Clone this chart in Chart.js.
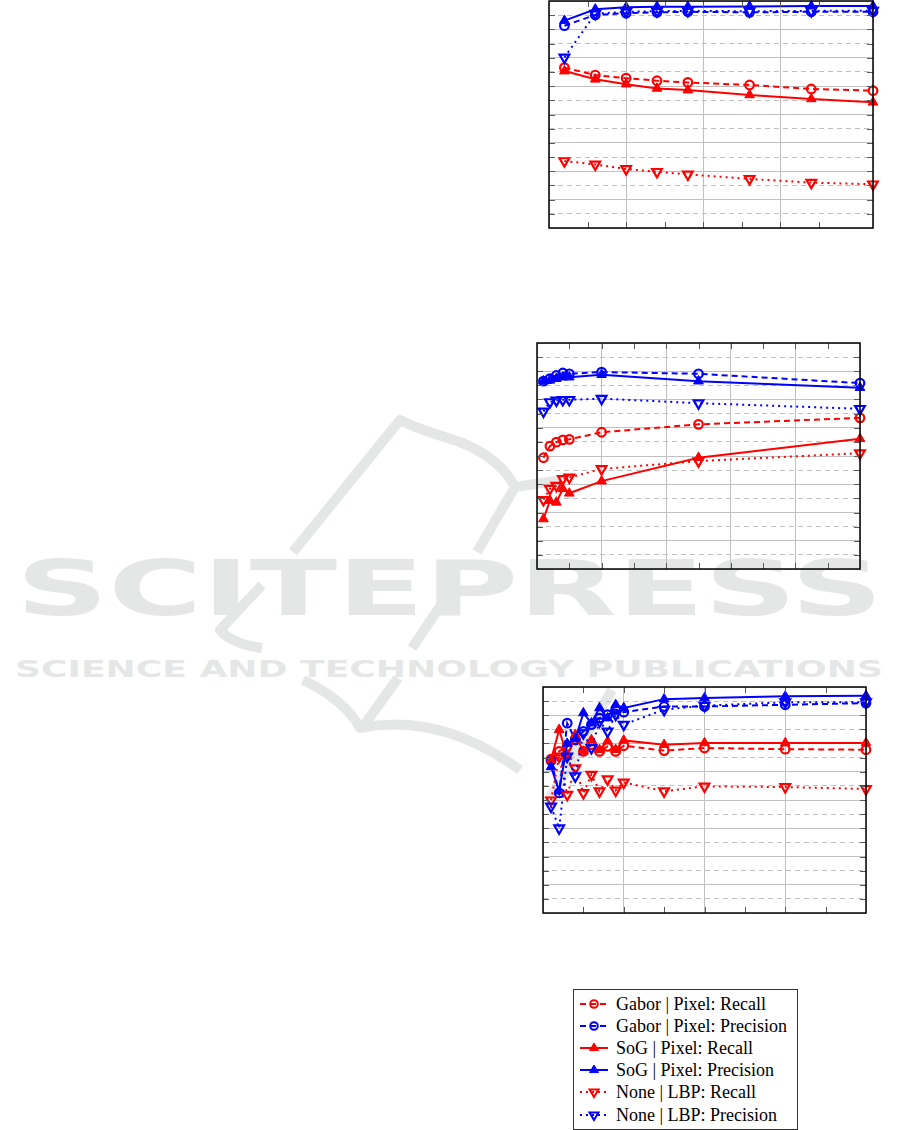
<!DOCTYPE html>
<html>
<head>
<meta charset="utf-8">
<script src="https://cdn.jsdelivr.net/npm/chart.js@4.4.0/dist/chart.umd.min.js"></script>
<style>
  html, body { margin: 0; padding: 0; background: #fff; }
  body { width: 901px; height: 1130px; position: relative; overflow: hidden; }
  #mark { position: absolute; left: 0; top: 0; z-index: 0; }
  canvas { position: absolute; z-index: 1; }
  #legend {
    position: absolute; left: 573px; top: 989px; width: 223px; height: 139px;
    border: 1px solid #333; background: #fff; z-index: 2;
    font-family: "Liberation Serif", "Times New Roman", serif; font-size: 18px; color: #000;
  }
  .row { position: absolute; left: 0; height: 20px; line-height: 20px; white-space: nowrap; }
  .row svg { position: absolute; left: 6px; top: 0; }
  .row span { position: absolute; left: 42px; top: 0; }
</style>
</head>
<body>

<!-- publisher watermark, sits behind the plots -->
<svg id="mark" width="901" height="1130">
  <g fill="none" stroke="#e5e7e7" stroke-width="10" stroke-linecap="butt" stroke-linejoin="round">
    <path d="M293,552 L400,420 Q415,428 460,442 Q500,458 515,487 L562,480"/>
    <path d="M515,487 L477,552"/>
    <path d="M262,585 L220,630 Q232,644 262,648"/>
    <path d="M443,602 L412,648"/>
    <path d="M303,680 Q345,700 360,728 Q440,712 520,770"/>
    <path d="M362,728 L398,678"/>
    <path d="M612,690 L548,802"/>
  </g>
  <text x="16" y="615" textLength="867" lengthAdjust="spacingAndGlyphs"
        font-family="DejaVu Sans" font-weight="bold" font-size="76" fill="#e5e7e7">SCITEPRESS</text>
  <text x="15" y="677" textLength="868" lengthAdjust="spacingAndGlyphs"
        font-family="DejaVu Sans" font-weight="bold" font-size="23.5" fill="#e5e7e7">SCIENCE AND TECHNOLOGY PUBLICATIONS</text>
</svg>

<canvas id="chartTop"></canvas>
<canvas id="chartMid"></canvas>
<canvas id="chartBot"></canvas>
<div id="legend"></div>

<script>
// series names, same order as the legend
const seriesLabels = [
  "Gabor | Pixel: Recall",
  "Gabor | Pixel: Precision",
  "SoG | Pixel: Recall",
  "SoG | Pixel: Precision",
  "None | LBP: Recall",
  "None | LBP: Precision"
];

// y axis (all three plots)
const yMin = 0.2;
const yMax = 1.0;
const yStep = 0.05;

// top plot
const xTop = [2, 6, 10, 14, 18, 26, 34, 42];
const xTopMax = 42, xTopStep = 5;
const gaborRecallTop = [0.765, 0.739, 0.728, 0.719, 0.713, 0.704, 0.690, 0.684];
const gaborPrecTop = [0.913, 0.951, 0.957, 0.960, 0.962, 0.960, 0.962, 0.962];
const sogRecallTop = [0.753, 0.724, 0.707, 0.692, 0.686, 0.669, 0.655, 0.643];
const sogPrecTop = [0.931, 0.971, 0.978, 0.980, 0.980, 0.981, 0.982, 0.982];
const noneRecallTop = [0.436, 0.424, 0.408, 0.398, 0.389, 0.373, 0.360, 0.354];
const nonePrecTop = [0.801, 0.955, 0.962, 0.964, 0.965, 0.964, 0.965, 0.966];

// middle plot
const xMid = [2, 4, 6, 8, 10, 20, 50, 100];
const xMidMax = 100, xMidStep = 10;
const gaborRecallMid = [0.594, 0.635, 0.649, 0.657, 0.659, 0.684, 0.712, 0.735];
const gaborPrecMid = [0.865, 0.874, 0.885, 0.894, 0.891, 0.897, 0.891, 0.858];
const sogRecallMid = [0.377, 0.442, 0.436, 0.484, 0.468, 0.511, 0.594, 0.661];
const sogPrecMid = [0.865, 0.868, 0.874, 0.879, 0.879, 0.888, 0.865, 0.842];
const noneRecallMid = [0.445, 0.484, 0.495, 0.519, 0.524, 0.554, 0.582, 0.610];
const nonePrecMid = [0.758, 0.791, 0.797, 0.799, 0.799, 0.803, 0.787, 0.767];

// bottom plot
const xBot = [1, 2, 3, 4, 5, 6, 7, 8, 9, 10, 15, 20, 30, 40];
const xBotMax = 40, xBotStep = 5;
const gaborRecallBot = [0.745, 0.772, 0.790, 0.813, 0.772, 0.796, 0.772, 0.790, 0.772, 0.792, 0.775, 0.784, 0.780, 0.778];
const gaborPrecBot = [0.739, 0.625, 0.872, 0.813, 0.843, 0.867, 0.890, 0.902, 0.920, 0.911, 0.931, 0.931, 0.937, 0.943];
const sogRecallBot = [0.743, 0.849, 0.754, 0.831, 0.772, 0.813, 0.778, 0.808, 0.778, 0.811, 0.796, 0.802, 0.802, 0.802];
const sogPrecBot = [0.717, 0.631, 0.800, 0.816, 0.908, 0.872, 0.926, 0.890, 0.937, 0.926, 0.957, 0.961, 0.967, 0.969];
const noneRecallBot = [0.599, 0.754, 0.619, 0.713, 0.625, 0.690, 0.631, 0.674, 0.634, 0.662, 0.631, 0.648, 0.646, 0.639];
const nonePrecBot = [0.577, 0.500, 0.754, 0.684, 0.837, 0.784, 0.878, 0.843, 0.902, 0.867, 0.920, 0.934, 0.946, 0.946];

// look of each series (line + marker)
const RED = "#ff0000", BLUE = "#0000ff";
const looks = [
  { color: RED,  dash: [6, 4], mark: "circle" },
  { color: BLUE, dash: [6, 4], mark: "circle" },
  { color: RED,  dash: [],     mark: "up" },
  { color: BLUE, dash: [],     mark: "up" },
  { color: RED,  dash: [2, 4], mark: "down" },
  { color: BLUE, dash: [2, 4], mark: "down" }
];

const PAD = 10;       // room round the plot box for markers on the frame
const TICK = 6;       // inward tick length
const GRID = "#c0c0c0";

// ticks on all four sides + black frame, like pgfplots
const framePlugin = {
  id: "frame",
  afterDraw(chart) {
    const { ctx, chartArea: a, scales } = chart;
    ctx.save();
    ctx.strokeStyle = "#5a5a5a";
    ctx.lineWidth = 1;
    ctx.beginPath();
    scales.x.ticks.forEach(t => {
      const px = Math.round(scales.x.getPixelForValue(t.value)) + 0.5;
      if (px <= a.left + 2 || px >= a.right - 2) return;
      ctx.moveTo(px, a.bottom); ctx.lineTo(px, a.bottom - TICK);
      ctx.moveTo(px, a.top); ctx.lineTo(px, a.top + TICK);
    });
    scales.y.ticks.forEach(t => {
      const py = Math.round(scales.y.getPixelForValue(t.value)) + 0.5;
      if (py <= a.top + 2 || py >= a.bottom - 2) return;
      ctx.moveTo(a.left, py); ctx.lineTo(a.left + TICK, py);
      ctx.moveTo(a.right, py); ctx.lineTo(a.right - TICK, py);
    });
    ctx.stroke();
    ctx.strokeStyle = "#000";
    ctx.lineWidth = 1.5;
    ctx.strokeRect(a.left, a.top, a.right - a.left, a.bottom - a.top);
    ctx.restore();
  }
};

function drawChart(id, box, xs, ys, xMax, xStep) {
  const cv = document.getElementById(id);
  cv.width = box.w + 2 * PAD;
  cv.height = box.h + 2 * PAD;
  cv.style.left = (box.x - PAD) + "px";
  cv.style.top = (box.y - PAD) + "px";

  const datasets = ys.map((vals, i) => {
    const lk = looks[i];
    return {
      label: seriesLabels[i],
      data: xs.map((x, k) => ({ x: x, y: vals[k] })),
      borderColor: lk.color,
      backgroundColor: lk.color,
      borderWidth: 2,
      borderDash: lk.dash,
      tension: 0,
      pointStyle: lk.mark === "circle" ? "circle" : "triangle",
      pointRotation: lk.mark === "down" ? 180 : 0,
      pointRadius: lk.mark === "circle" ? 4.3 : 5.6,
      pointBorderWidth: lk.mark === "up" ? 1 : 2.2,
      pointBorderColor: lk.color,
      pointBackgroundColor: lk.mark === "up" ? lk.color : "rgba(255,255,255,0)",
      order: 6 - i,
      clip: false
    };
  });

  new Chart(cv, {
    type: "line",
    data: { datasets: datasets },
    options: {
      responsive: false,
      animation: false,
      events: [],
      layout: { padding: PAD },
      plugins: { legend: { display: false }, tooltip: { enabled: false } },
      scales: {
        x: {
          type: "linear", min: 0, max: xMax,
          afterFit: s => { s.height = 0; },
          ticks: { display: false, stepSize: xStep },
          grid: {
            drawTicks: false, lineWidth: 1,
            color: c => (c.index % 2 === 0 ? GRID : "rgba(0,0,0,0)")
          },
          border: { display: false }
        },
        y: {
          type: "linear", min: yMin, max: yMax,
          afterFit: s => { s.width = 0; },
          ticks: { display: false, stepSize: yStep },
          grid: { drawTicks: false, lineWidth: 1, color: GRID },
          border: { display: false, dash: c => (c.index % 2 === 1 ? [5, 4] : []) }
        }
      }
    },
    plugins: [framePlugin]
  });
}

drawChart("chartTop", { x: 549, y: 1, w: 324, h: 227 }, xTop,
  [gaborRecallTop, gaborPrecTop, sogRecallTop, sogPrecTop, noneRecallTop, nonePrecTop], xTopMax, xTopStep);
drawChart("chartMid", { x: 537, y: 343, w: 323, h: 226 }, xMid,
  [gaborRecallMid, gaborPrecMid, sogRecallMid, sogPrecMid, noneRecallMid, nonePrecMid], xMidMax, xMidStep);
drawChart("chartBot", { x: 543, y: 687, w: 323, h: 226 }, xBot,
  [gaborRecallBot, gaborPrecBot, sogRecallBot, sogPrecBot, noneRecallBot, nonePrecBot], xBotMax, xBotStep);

// legend box: line sample with marker, then label
const legend = document.getElementById("legend");
seriesLabels.forEach((lab, i) => {
  const lk = looks[i];
  const row = document.createElement("div");
  row.className = "row";
  row.style.top = (3.5 + 22.2 * i) + "px";
  let marker;
  if (lk.mark === "circle") {
    marker = `<circle cx="14" cy="10" r="3.8" fill="none" stroke="${lk.color}" stroke-width="2"/>`;
  } else if (lk.mark === "up") {
    marker = `<polygon points="14,5 18.5,12.6 9.5,12.6" fill="${lk.color}" stroke="${lk.color}" stroke-width="1"/>`;
  } else {
    marker = `<polygon points="14,15 18.5,7.4 9.5,7.4" fill="none" stroke="${lk.color}" stroke-width="2"/>`;
  }
  const dash = lk.dash.length ? `stroke-dasharray="${lk.dash.join(",")}"` : "";
  row.innerHTML =
    `<svg width="30" height="20"><line x1="0" y1="10" x2="28" y2="10" stroke="${lk.color}" stroke-width="2" ${dash}/>${marker}</svg>` +
    `<span>${lab}</span>`;
  legend.appendChild(row);
});
</script>
</body>
</html>
